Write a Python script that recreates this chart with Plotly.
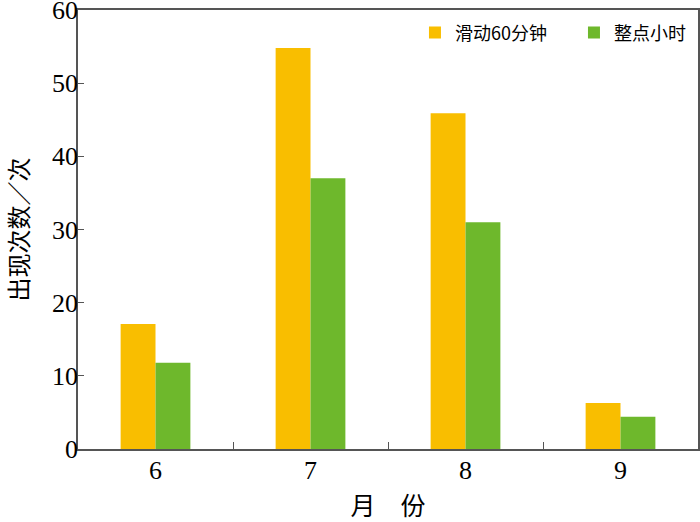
import plotly.graph_objects as go

months = ["6", "7", "8", "9"]
sliding_60min = [17.1, 54.8, 45.9, 6.3]
hourly = [11.8, 37.0, 31.0, 4.4]
series_names = ["滑动60分钟", "整点小时"]
y_ticks = [0, 10, 20, 30, 40, 50, 60]

FONT = "Liberation Serif, 'Noto Sans CJK SC', serif"
CJK = "'Noto Sans CJK SC', Liberation Serif"

fig = go.Figure()
fig.add_trace(go.Bar(x=months, y=sliding_60min, name=series_names[0],
                     marker=dict(color="#F9BE00", line=dict(width=0))))
fig.add_trace(go.Bar(x=months, y=hourly, name=series_names[1],
                     marker=dict(color="#6EB82C", line=dict(width=0))))

fig.update_layout(
    width=700, height=522,
    margin=dict(l=78, r=2, t=10, b=73, autoexpand=False),
    paper_bgcolor="white", plot_bgcolor="white",
    barmode="group", bargap=0.55, bargroupgap=0,
    font=dict(family=FONT, color="black", size=20),
    legend=dict(orientation="h", x=0.5435, xanchor="left", y=0.99, yanchor="top",
                font=dict(size=18, family=CJK),
                bgcolor="rgba(0,0,0,0)", itemwidth=30, traceorder="normal",
                entrywidth=114, entrywidthmode="pixels"),
    showlegend=True,
)
fig.update_xaxes(
    type="category", range=[-0.5, 3.5], automargin=False,
    showline=True, linecolor="#555555", linewidth=1.5, mirror=True,
    ticks="inside", tickson="boundaries", ticklen=7, tickcolor="#555555",
    tickfont=dict(size=26, family=FONT), ticklabeloverflow="allow",
    ticklabelstandoff=-3,
    showgrid=False,
    title=dict(text="月　份", font=dict(size=25, family=CJK), standoff=20),
)
fig.update_yaxes(
    range=[0, 60], tickvals=y_ticks, automargin=False,
    showline=True, linecolor="#555555", linewidth=1.5, mirror=True,
    ticks="inside", ticklen=6, tickcolor="#555555",
    tickfont=dict(size=26, family=FONT), ticklabeloverflow="allow",
    ticklabelstandoff=-7,
    showgrid=False, zeroline=False,
    title=dict(text="出现次数／次", font=dict(size=24, family=CJK), standoff=46),
)

fig.write_html("out.html", config={"displayModeBar": False},
               post_script="document.body.style.margin='0';")
